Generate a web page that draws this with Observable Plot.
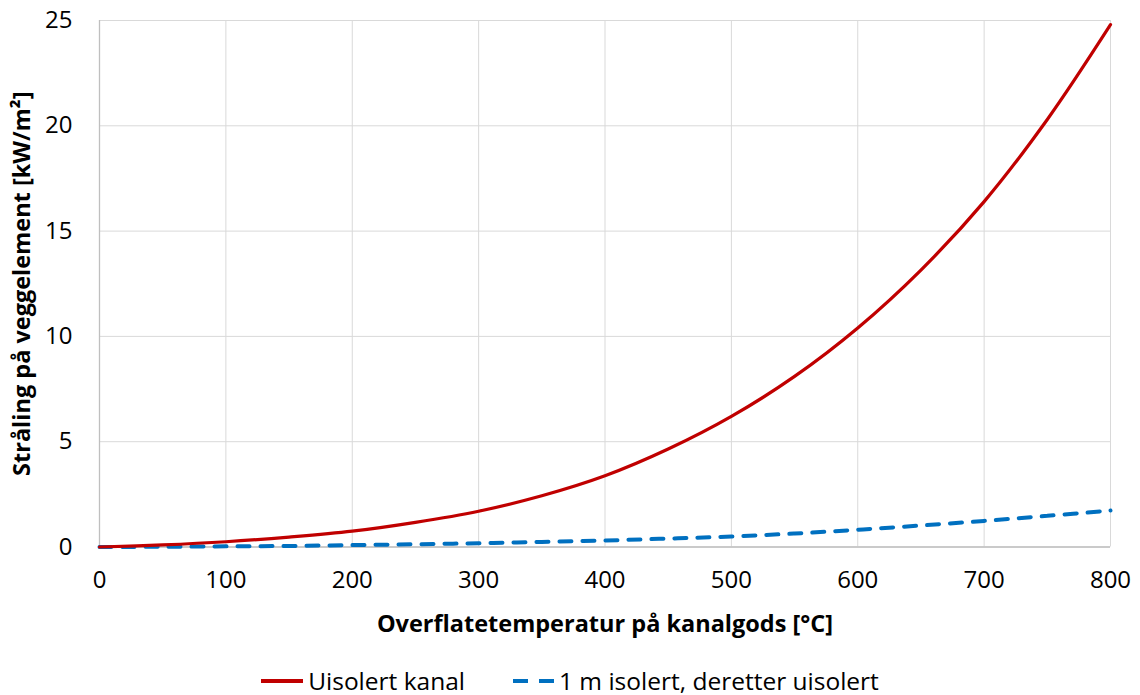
<!DOCTYPE html>
<html>
<head>
<meta charset="utf-8">
<script src="https://cdn.jsdelivr.net/npm/d3@7"></script>
<script src="https://cdn.jsdelivr.net/npm/@observablehq/plot@0.6"></script>
<style>
  html, body { margin: 0; padding: 0; background: #fff; }
  body { width: 1140px; height: 695px; overflow: hidden; font-family: "Open Sans", sans-serif; position: relative; }
  #legend { position: absolute; top: 668px; left: 0; width: 1140px; display: flex; justify-content: center; align-items: center; height: 26px; line-height: 26px; font-size: 24.5px; color: #000; }
  .item { display: flex; align-items: center; }
  .item svg { margin-right: 5px; }
  .item + .item { margin-left: 48px; }
</style>
</head>
<body>
<div id="chart"></div>
<div id="legend"></div>
<script>
const temperatures = [0, 50, 100, 150, 200, 250, 300, 350, 400, 450, 500, 550, 600, 650, 700, 750, 800];
const uisolert = [0, 0.10, 0.25, 0.47, 0.75, 1.17, 1.70, 2.43, 3.38, 4.65, 6.2, 8.1, 10.4, 13.15, 16.4, 20.3, 24.8];
const isolert1m = [0, 0.01, 0.03, 0.05, 0.09, 0.13, 0.18, 0.24, 0.31, 0.40, 0.50, 0.64, 0.82, 1.02, 1.24, 1.48, 1.73];
const seriesNames = ["Uisolert kanal", "1 m isolert, deretter uisolert"];
const xTicks = [0, 100, 200, 300, 400, 500, 600, 700, 800];
const yTicks = [0, 5, 10, 15, 20, 25];
const xLabel = "Overflatetemperatur på kanalgods [°C]";
const yLabel = "Stråling på veggelement [kW/m²]";

const red = "#C00000", blue = "#0070C0";
const dataRed = temperatures.map((t, i) => ({t, v: uisolert[i]}));
const dataBlue = temperatures.map((t, i) => ({t, v: isolert1m[i]}));

const chart = Plot.plot({
  width: 1140,
  height: 650,
  marginLeft: 99,
  marginRight: 30,
  marginTop: 20,
  marginBottom: 103.5,
  style: {fontFamily: "'Open Sans', sans-serif", fontSize: "24px", color: "#000", background: "#fff"},
  x: {domain: [0, 800]},
  y: {domain: [0, 25]},
  marks: [
    Plot.gridX(xTicks, {stroke: "#d9d9d9", strokeOpacity: 1, strokeWidth: 1}),
    Plot.gridY(yTicks, {stroke: "#d9d9d9", strokeOpacity: 1, strokeWidth: 1}),
    Plot.ruleY([0], {stroke: "#bfbfbf", strokeWidth: 1.3}),
    Plot.ruleX([0], {stroke: "#bfbfbf", strokeWidth: 1.3}),
    Plot.axisX({ticks: xTicks, tickSize: 0, tickPadding: 24, fontSize: 24, label: xLabel, labelAnchor: "center", labelOffset: 85, labelArrow: "none"}),
    Plot.axisY({ticks: yTicks, tickSize: 0, tickPadding: 27, fontSize: 24, label: yLabel, labelAnchor: "center", labelOffset: 86, labelArrow: "none"}),
    Plot.line(dataBlue, {x: "t", y: "v", stroke: blue, strokeWidth: 4, strokeDasharray: "12,11", curve: "catmull-rom"}),
    Plot.line(dataRed, {x: "t", y: "v", stroke: red, strokeWidth: 3.2, curve: "catmull-rom"})
  ]
});
d3.select(chart).selectAll("g[aria-label='x-axis label'] text, g[aria-label='y-axis label'] text")
  .style("font-weight", "bold").style("font-size", "23.5px");
document.getElementById("chart").append(chart);

const legend = document.getElementById("legend");
seriesNames.forEach((name, i) => {
  const item = document.createElement("div");
  item.className = "item";
  const dash = i === 0 ? "" : "stroke-dasharray='15,11'";
  const col = i === 0 ? red : blue;
  item.innerHTML = `<svg width="${i===0?42:41}" height="10"><line x1="0" y1="5" x2="${i===0?42:41}" y2="5" stroke="${col}" stroke-width="4" ${dash}/></svg><span>${name}</span>`;
  legend.append(item);
});
</script>
</body>
</html>
